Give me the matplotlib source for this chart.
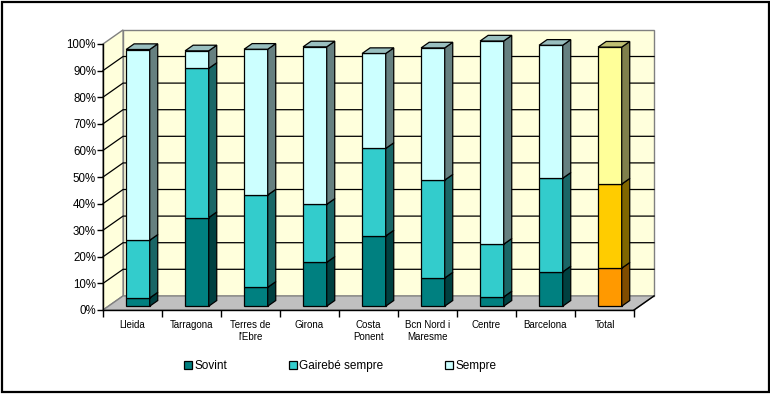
import matplotlib.pyplot as plt
from matplotlib.patches import Polygon, Rectangle, Patch

plt.rcParams['font.family'] = ['Liberation Sans', 'DejaVu Sans']

regions = ["Lleida", "Tarragona", "Terres de\nl'Ebre", "Girona", "Costa\nPonent",
           "Bcn Nord i\nMaresme", "Centre", "Barcelona", "Total"]
sovint = [3.1, 33.3, 7.1, 16.5, 26.4, 10.6, 3.5, 12.9, 14.3]
gairebe = [21.7, 56.1, 34.7, 21.8, 32.9, 36.8, 19.8, 35.2, 31.6]
sempre = [71.7, 6.6, 54.8, 59.2, 35.7, 49.7, 76.4, 50.0, 51.5]
series_names = ["Sovint", "Gairebé sempre", "Sempre"]

# (front, side, top) shades for each series; the Total bar has its own palette
teal = [("#008080", "#004040", "#006060"),
        ("#33CCCC", "#1A6666", "#26999A"),
        ("#CCFFFF", "#668080", "#99BFBF")]
gold = [("#FF9900", "#804C00", "#BF7300"),
        ("#FFCC00", "#806600", "#BF9900"),
        ("#FFFF99", "#80804C", "#BFBF73")]

DX, DY = 0.34, 5.3      # depth of the box in data units
F, D = 0.27, 0.4        # bar front position and thickness as a fraction of depth
W = 0.4                 # bar width
n = len(regions)

fig = plt.figure(figsize=(7.7, 3.94), dpi=100)
fig.patches.append(Rectangle((2 / 770, 2 / 394), 767 / 770, 390 / 394, transform=fig.transFigure,
                             fill=False, ec='black', lw=1.6))

ax = fig.add_axes([103 / 770, 84 / 394, 531 / 770, 266 / 394])
ax.set_xlim(0, n)
ax.set_ylim(0, 100)
ax.patch.set_visible(False)

wall = '#FFFFDC'
ax.add_patch(Polygon([(DX, DY), (n + DX, DY), (n + DX, 100 + DY), (DX, 100 + DY)],
                     fc=wall, ec='#808080', lw=1, clip_on=False, zorder=0))
ax.add_patch(Polygon([(0, 0), (DX, DY), (DX, 100 + DY), (0, 100)],
                     fc=wall, ec='#808080', lw=1, clip_on=False, zorder=0))
ax.add_patch(Polygon([(0, 0), (n, 0), (n + DX, DY), (DX, DY)],
                     fc='#C0C0C0', ec='#808080', lw=1, clip_on=False, zorder=0.5))
ax.plot([n, n + DX], [0, DY], color='black', lw=1, clip_on=False, zorder=0.6)

for v in range(10, 100, 10):
    ax.plot([0, DX, n + DX], [v, v + DY, v + DY], color='black', lw=0.9,
            clip_on=False, zorder=0.4)

for i in range(n):
    shades = gold if regions[i] == "Total" else teal
    bottom = 0
    vals = [sovint[i], gairebe[i], sempre[i]]
    for k, h in enumerate(vals):
        front, side, top = shades[k]
        x0 = i + (1 - W) / 2 + F * DX
        y0 = bottom + F * DY
        ax.add_patch(Rectangle((x0, y0), W, h, fc=front, ec='black', lw=0.9,
                               clip_on=False, zorder=2))
        ax.add_patch(Polygon([(x0 + W, y0), (x0 + W + D * DX, y0 + D * DY),
                              (x0 + W + D * DX, y0 + h + D * DY), (x0 + W, y0 + h)],
                             fc=side, ec='black', lw=0.9, clip_on=False, zorder=2))
        if k == len(vals) - 1:
            ax.add_patch(Polygon([(x0, y0 + h), (x0 + W, y0 + h),
                                  (x0 + W + D * DX, y0 + h + D * DY), (x0 + D * DX, y0 + h + D * DY)],
                                 fc=top, ec='black', lw=0.9, clip_on=False, zorder=2))
        bottom += h

for s in ['top', 'right']:
    ax.spines[s].set_visible(False)
for s in ['left', 'bottom']:
    ax.spines[s].set_linewidth(1)
    ax.spines[s].set_zorder(1)

ax.set_yticks(range(0, 101, 10))
ax.set_yticklabels([f"{v}%" for v in range(0, 101, 10)], fontsize=8.3)
ax.tick_params(axis='y', length=4, width=1, pad=1)
ax.set_xticks(range(n + 1))
ax.set_xticklabels([])
ax.tick_params(axis='x', which='major', length=5, width=1)
ax.set_xticks([i + 0.5 for i in range(n)], minor=True)
ax.set_xticklabels(regions, minor=True, fontsize=7, linespacing=1.3)
ax.tick_params(axis='x', which='minor', length=0, pad=7)

handles = [Patch(fc=teal[k][0], ec='black', lw=0.9) for k in range(3)]
fig.legend(handles, series_names, loc='center', bbox_to_anchor=(340 / 770, 1 - 366 / 394),
           ncol=3, frameon=False, fontsize=8.5, handlelength=0.7, handleheight=0.7,
           handletextpad=0.2, columnspacing=5.2)

fig.savefig('out.png', dpi=100)
